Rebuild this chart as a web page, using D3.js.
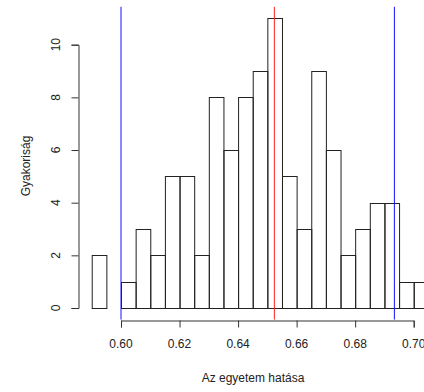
<!DOCTYPE html>
<html>
<head>
<meta charset="utf-8">
<script src="https://cdn.jsdelivr.net/npm/d3@7"></script>
<style>
  body { margin: 0; background: #fff; }
  text { font-family: "Liberation Sans", Arial, sans-serif; fill: #222; }
</style>
</head>
<body>
<div id="chart"></div>
<script>
// histogram bins (left edges), width 0.005
const binStarts = [0.590, 0.595, 0.600, 0.605, 0.610, 0.615, 0.620, 0.625, 0.630, 0.635, 0.640, 0.645,
                   0.650, 0.655, 0.660, 0.665, 0.670, 0.675, 0.680, 0.685, 0.690, 0.695, 0.700];
const counts = [2, 0, 1, 3, 2, 5, 5, 2, 8, 6, 8, 9, 11, 5, 3, 9, 6, 2, 3, 4, 4, 1, 1];
const binWidth = 0.005;
const xTicks = [0.60, 0.62, 0.64, 0.66, 0.68, 0.70];
const yTicks = [0, 2, 4, 6, 8, 10];
const meanLine = [0.6524];
const ciLines = [0.600, 0.6934];
const xTitle = 'Az egyetem hatása';
const yTitle = 'Gyakoriság';

const width = 424, height = 392;

const svg = d3.select('#chart')
    .append('svg')
    .attr('width', width)
    .attr('height', height);

const x = d3.scaleLinear().domain([0.60, 0.70]).range([121, 413.7]);
const y = d3.scaleLinear().domain([0, 10]).range([308, 44.7]);

// plot region (R style 4% padding)
const xLo = 0.59 - 0.04 * 0.115, xHi = 0.705 + 0.04 * 0.115;
const yLo = -0.44, yHi = 11.44;

// bars
svg.append('g')
    .selectAll('rect')
    .data(binStarts)
    .enter()
    .append('rect')
    .attr('x', d => x(d) + 0.5)
    .attr('y', (d, i) => Math.round(y(counts[i])) + 0.5)
    .attr('width', d => x(d + binWidth) - x(d))
    .attr('height', (d, i) => Math.round(y(0)) - Math.round(y(counts[i])))
    .attr('fill', 'none')
    .attr('stroke', '#222')
    .attr('stroke-width', 1);

// vertical lines
const vline = (vals, col) => svg.append('g')
    .selectAll('line')
    .data(vals)
    .enter()
    .append('line')
    .attr('x1', d => x(d))
    .attr('x2', d => x(d))
    .attr('y1', y(yHi))
    .attr('y2', y(yLo))
    .attr('stroke', col)
    .attr('stroke-width', 1);
vline(meanLine, '#ff2020');
vline(ciLines, '#1010ff');

// x axis
const xAxis = svg.append('g')
    .attr('transform', 'translate(0,' + (Math.round(y(yLo)) + 0.5) + ')')
    .call(d3.axisBottom(x).tickValues(xTicks).tickSizeOuter(0).tickSize(7).tickFormat(d3.format('.2f')));
xAxis.selectAll('path, line').attr('stroke', '#333');
xAxis.selectAll('text').remove();
svg.append('g')
    .selectAll('text')
    .data(xTicks)
    .enter()
    .append('text')
    .attr('x', d => x(d))
    .attr('y', 348)
    .attr('text-anchor', 'middle')
    .style('font-size', '12px')
    .text(d3.format('.2f'));

// y axis
const yAxis = svg.append('g')
    .attr('transform', 'translate(' + (Math.round(x(xLo)) + 0.5) + ',0)')
    .call(d3.axisLeft(y).tickValues(yTicks).tickSizeOuter(0).tickSize(7));
yAxis.selectAll('path, line').attr('stroke', '#333');
yAxis.selectAll('text').remove();
svg.append('g')
    .selectAll('text')
    .data(yTicks)
    .enter()
    .append('text')
    .attr('transform', d => 'translate(59.5,' + y(d) + ') rotate(-90)')
    .attr('text-anchor', 'middle')
    .style('font-size', '12px')
    .text(d => d);

// titles
svg.append('text')
    .attr('x', 253)
    .attr('y', 382)
    .attr('text-anchor', 'middle')
    .style('font-size', '12px')
    .text(xTitle);

svg.append('text')
    .attr('transform', 'translate(30,166) rotate(-90)')
    .attr('text-anchor', 'middle')
    .style('font-size', '12px')
    .text(yTitle);
</script>
</body>
</html>
